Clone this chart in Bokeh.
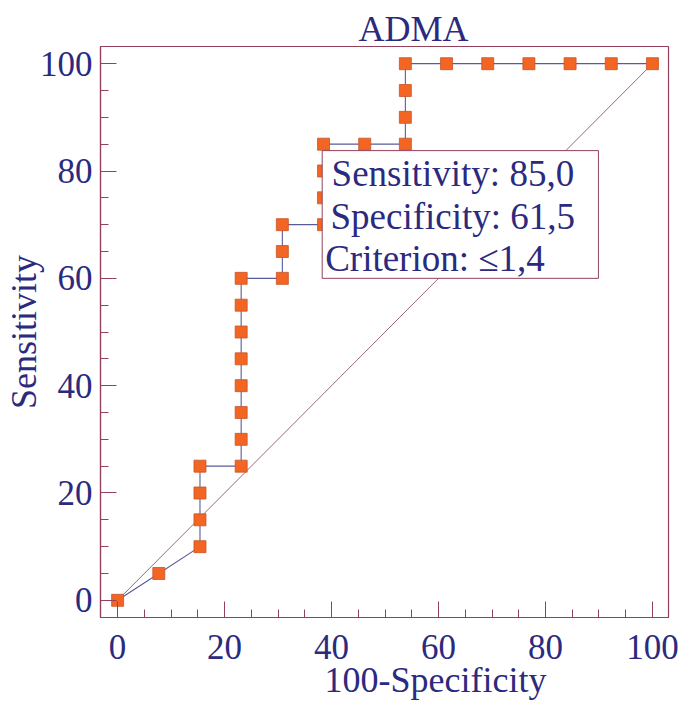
from bokeh.plotting import figure
from bokeh.models import Range1d, SingleIntervalTicker, BoxAnnotation, Label, Title, ColumnDataSource
from bokeh.embed import file_html
from bokeh.resources import INLINE

# ROC data (100-Specificity, Sensitivity)
one_minus_spec = [0, 7.7, 15.4, 15.4, 15.4, 15.4,
                  23.1, 23.1, 23.1, 23.1, 23.1, 23.1, 23.1, 23.1,
                  30.8, 30.8, 30.8,
                  38.5, 38.5, 38.5, 38.5,
                  46.2,
                  53.8, 53.8, 53.8, 53.8,
                  61.5, 69.2, 76.9, 84.6, 92.3, 100]
sensitivity = [0, 5, 10, 15, 20, 25,
               25, 30, 35, 40, 45, 50, 55, 60,
               60, 65, 70,
               70, 75, 80, 85,
               85,
               85, 90, 95, 100,
               100, 100, 100, 100, 100, 100]
diag_x = [0, 100]
diag_y = [0, 100]
info_lines = ["Sensitivity: 85,0", "Specificity: 61,5", "Criterion: \u22641,4"]
title_text = "ADMA"
x_label = "100-Specificity"
y_label = "Sensitivity"

FONT = "Liberation Serif"
FG = "#2B2A7E"
AXC = "#93405A"

p = figure(width=684, height=704,
           x_range=Range1d(-3.2, 103.0), y_range=Range1d(-3.2, 103.2),
           output_backend="svg", toolbar_location=None,
           min_border_left=99, min_border_right=16,
           min_border_top=46, min_border_bottom=87)

p.title = Title(text=title_text, align="left", offset=258,
                text_font=FONT, text_font_size="36px", text_color=FG,
                text_font_style="normal", standoff=-5)

p.background_fill_color = "white"
p.border_fill_color = "white"
p.outline_line_color = AXC
p.outline_line_width = 1.2
p.grid.visible = False

for ax in (p.xaxis[0], p.yaxis[0]):
    ax.ticker = SingleIntervalTicker(interval=20, num_minor_ticks=4)
    ax.axis_line_color = AXC
    ax.axis_line_width = 1.2
    ax.major_tick_line_color = AXC
    ax.minor_tick_line_color = AXC
    ax.major_tick_in = 16
    ax.major_tick_out = 0
    ax.minor_tick_in = 8
    ax.minor_tick_out = 0
    ax.major_label_text_font = FONT
    ax.major_label_text_font_size = "35px"
    ax.major_label_text_color = FG

p.yaxis[0].major_label_standoff = 8
p.xaxis[0].major_label_standoff = 17

p.yaxis[0].axis_label = y_label
p.yaxis[0].axis_label_text_font = FONT
p.yaxis[0].axis_label_text_font_size = "36px"
p.yaxis[0].axis_label_text_font_style = "normal"
p.yaxis[0].axis_label_text_color = FG
p.yaxis[0].axis_label_standoff = -7

# x-axis label as a title below the axis (shifted right of centre as in the reference)
p.add_layout(Title(text=x_label, align="left", offset=224,
                   text_font=FONT, text_font_size="36px", text_color=FG,
                   text_font_style="normal", standoff=-8), "below")

# reference diagonal
p.line(diag_x, diag_y, line_color="#8F5A64", line_width=0.9)

src = ColumnDataSource(dict(x=one_minus_spec, y=sensitivity))
p.line("x", "y", source=src, line_color="#5B5B9B", line_width=1.1)
p.scatter("x", "y", source=src, marker="square", size=12,
          fill_color="#F26522", line_color="#C9542B", line_width=0.8)

box = BoxAnnotation(left=38.25, right=89.9, bottom=60.0, top=83.8,
                    fill_color="white", fill_alpha=1.0,
                    line_color=AXC, line_width=1.0, line_alpha=1.0)
p.add_layout(box)

label_pos = [(40.0, 79.5), (39.8, 71.5), (38.8, 63.7)]
for txt, (lx, ly) in zip(info_lines, label_pos):
    p.add_layout(Label(x=lx, y=ly, text=txt, text_font=FONT,
                       text_font_size="37px", text_color=FG,
                       text_baseline="alphabetic", text_align="left"))

open("out.html", "w").write(file_html(p, INLINE))
